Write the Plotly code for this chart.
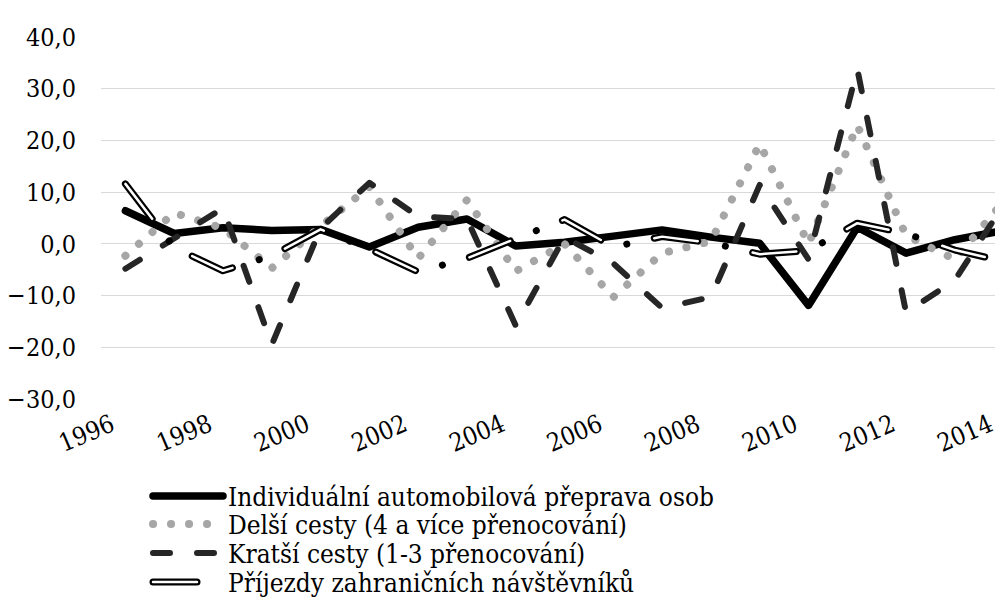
import plotly.graph_objects as go

years = list(range(1996, 2015))
individualni = [6.4, 2.0, 3.1, 2.6, 2.8, -0.6, 3.2, 4.8, -0.4, 0.3, 1.5, 2.7, 1.3, 0.1, -11.9, 3.2, -1.8, 0.8, 2.6]
delsi = [-2.3, 6.0, 3.0, -4.7, 3.4, 11.0, -2.8, 8.5, -5.3, 0.0, -10.3, -1.8, 0.5, 19.3, 0.0, 22.9, 1.6, -3.0, 8.2]
kratsi = [-4.8, 1.0, 6.9, -19.5, 3.0, 11.8, 5.3, 4.8, -15.8, 1.3, -3.8, -12.4, -10.3, 11.4, -3.0, 33.8, -13.3, -7.0, 7.6]
prijezdy = [11.6, -0.7, -5.2, -2.3, 2.8, -1.0, -5.4, -2.8, 1.0, 4.7, -0.6, 1.4, 0.2, -2.0, -1.3, 4.0, 2.0, -1.2, -3.4]

series_names = [
    "Individuální automobilová přeprava osob",
    "Delší cesty (4 a více přenocování)",
    "Kratší cesty (1-3 přenocování)",
    "Příjezdy zahraničních návštěvníků",
]
y_ticks = [-30, -20, -10, 0, 10, 20, 30, 40]
x_ticks = list(range(1996, 2015, 2))

FONT = "DejaVu Serif Condensed"

fig = go.Figure()
fig.add_trace(go.Scatter(x=years, y=individualni, mode="lines", name=series_names[0],
                         line=dict(color="#000000", width=7.5), legend="legend"))
fig.add_trace(go.Scatter(x=years, y=delsi, mode="lines", name=series_names[1],
                         line=dict(color="#a6a6a6", width=8, dash="0.1px,17.9px"), legend="legend2"))
fig.add_trace(go.Scatter(x=years, y=kratsi, mode="lines", name=series_names[2],
                         line=dict(color="#262626", width=6, dash="17px,27px"), legend="legend3"))
fig.add_trace(go.Scatter(x=years, y=prijezdy, mode="lines", name=series_names[3],
                         line=dict(color="#000000", width=7, dash="44px,28px,0.1px,28px"), legend="legend4"))
fig.add_trace(go.Scatter(x=years, y=prijezdy, mode="lines", name=" ",
                         line=dict(color="#ffffff", width=2.5, dash="44px,56.1px"), legend="legend5",
                         hoverinfo="skip"))

plot_top, plot_bottom, plot_left, W, H = 29, 391, 93, 1003, 606
def py(p):
    return (plot_bottom - p) / (plot_bottom - plot_top)
def px(p):
    return (p - plot_left) / (W - plot_left)

def leg(y):
    return dict(x=px(140), xanchor="left", yanchor="middle", bgcolor="rgba(0,0,0,0)",
                font=dict(family=FONT, size=26, color="#000000"), itemwidth=70,
                borderwidth=0, y=y)
rows = [488, 516, 545, 574]

fig.update_layout(
    width=W, height=H,
    margin=dict(l=plot_left, r=0, t=plot_top, b=H - plot_bottom, autoexpand=False),
    paper_bgcolor="white", plot_bgcolor="white",
    separators=", ",
    showlegend=True,
    legend=leg(py(rows[0])),
    legend2=leg(py(rows[1])),
    legend3=leg(py(rows[2])),
    legend4=leg(py(rows[3])),
    legend5=leg(py(rows[3])),
    xaxis=dict(range=[1995.5, 2014.15], tickvals=x_ticks, ticktext=[str(v) for v in x_ticks],
               tickangle=-23, showgrid=False, zeroline=False, showline=False, ticks="",
               tickfont=dict(family=FONT, size=25, color="#000000"), ticklabelstandoff=6,
               ticklabelshift=-14, ticklabeloverflow="allow"),
    yaxis=dict(range=[-30, 40], tickvals=y_ticks, tickformat=".1f", showgrid=True,
               gridcolor="#d9d9d9", gridwidth=1.3, zeroline=False, showline=False, ticks="",
               tickfont=dict(family=FONT, size=25, color="#000000"), ticklabelstandoff=24),
)

post = """
var s = document.createElement('style');
s.textContent = 'path.js-line{stroke-linecap:round !important;stroke-linejoin:round !important;}';
document.head.appendChild(s);
"""
fig.write_html("out.html", post_script=post)
